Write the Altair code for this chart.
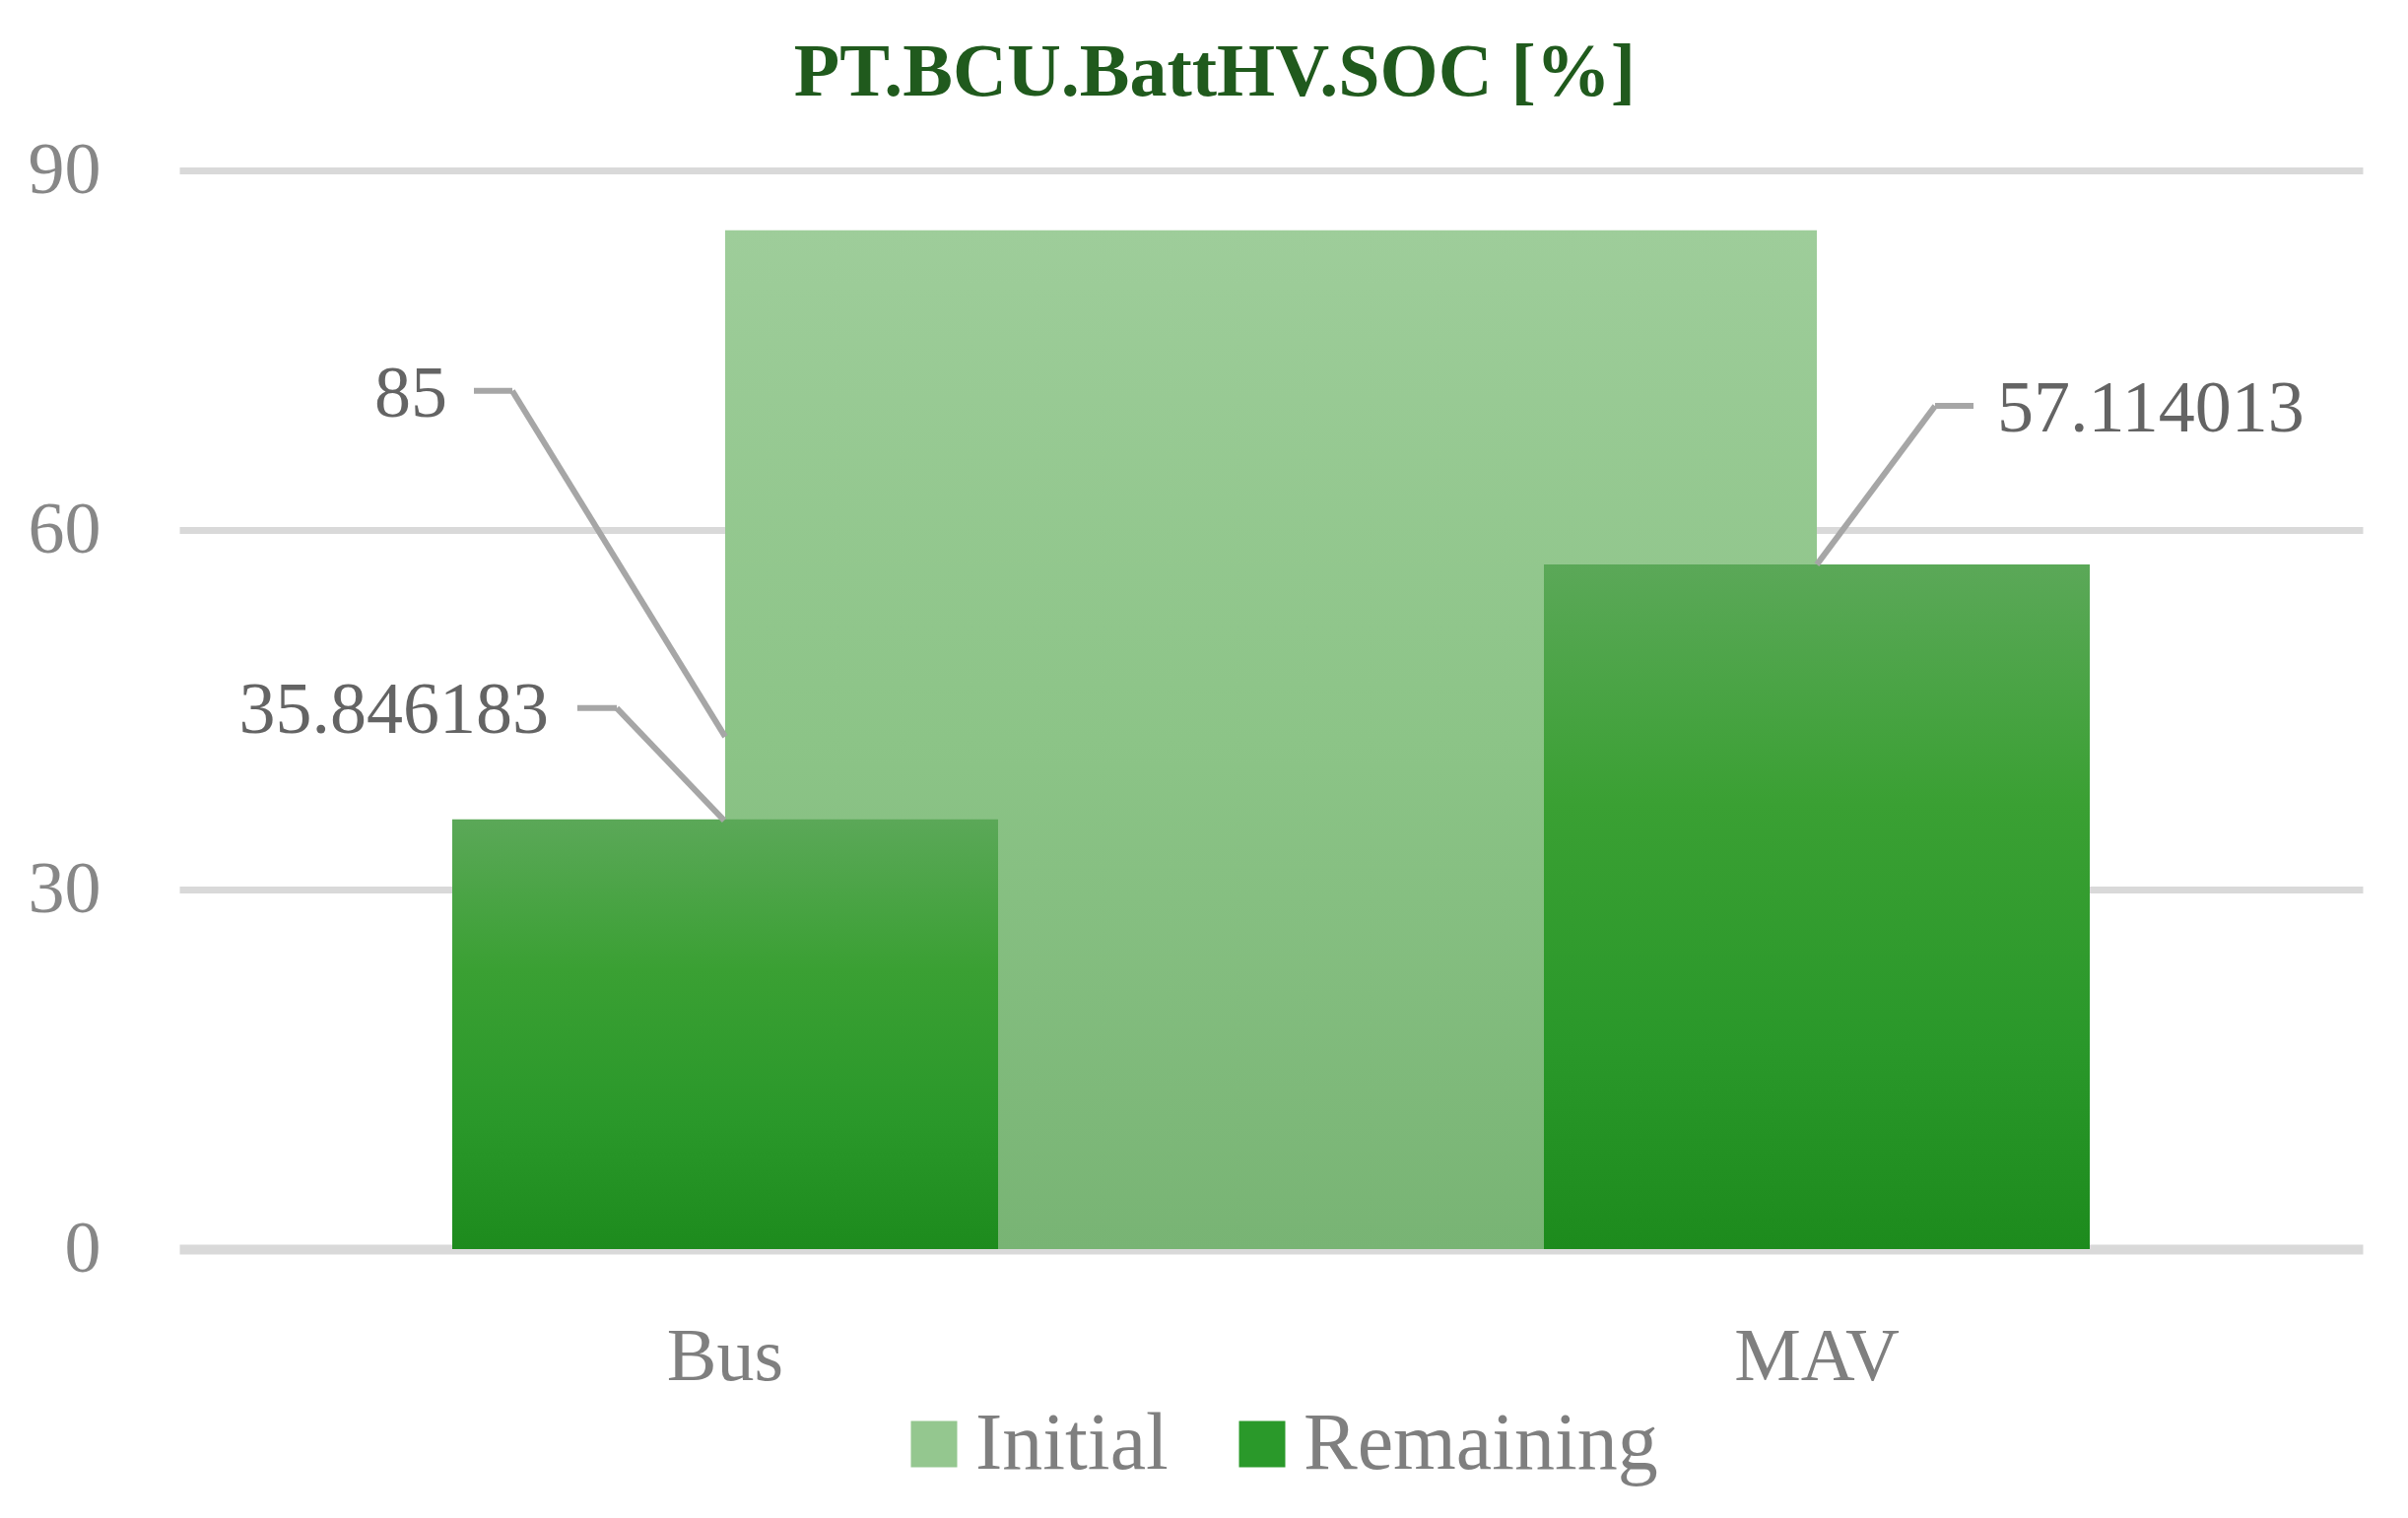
import pandas as pd
import altair as alt

# values
vehicles = ["Bus", "MAV"]
initial_soc = [85, 85]
remaining_soc = [35.846183, 57.114013]
series_names = ["Initial", "Remaining"]
y_ticks = [0, 30, 60, 90]

FONT = "Liberation Serif"

soc = pd.DataFrame({"vehicle": vehicles, "initial": initial_soc, "remaining": remaining_soc})
legend_df = pd.DataFrame({"series": series_names})

x_enc = alt.X("vehicle:N", sort=vehicles, title=None,
              scale=alt.Scale(paddingInner=0, paddingOuter=0),
              axis=alt.Axis(labelAngle=0, labelFont=FONT, labelFontSize=76, labelColor="#7f7f7f",
                            ticks=False, tickSize=0, domain=False, labelPadding=132,
                            labelBaseline="alphabetic"))
y_enc = alt.Y("initial:Q", title=None,
              scale=alt.Scale(domain=[0, 90], nice=False),
              axis=alt.Axis(values=y_ticks, labelFont=FONT, labelFontSize=74, labelColor="#878787",
                            ticks=False, tickSize=0, domain=False, labelPadding=80,
                            gridColor="#d9d9d9",
                            gridWidth={"condition": {"test": "datum.value === 0", "value": 10}, "value": 7}))

base = alt.Chart(soc)

initial_area = base.mark_area(
    color=alt.Gradient(
        gradient="linear",
        stops=[alt.GradientStop(color="#9ecd9a", offset=0),
               alt.GradientStop(color="#8cc487", offset=0.5),
               alt.GradientStop(color="#78b474", offset=1)],
        x1=0, x2=0, y1=0, y2=1)
).encode(x=x_enc, y=y_enc)

remaining_bars = base.mark_bar(
    width={"band": 0.5},
    color=alt.Gradient(
        gradient="linear",
        stops=[alt.GradientStop(color="#5ba858", offset=0),
               alt.GradientStop(color="#3aa033", offset=0.35),
               alt.GradientStop(color="#2a982a", offset=0.7),
               alt.GradientStop(color="#1d8b1d", offset=1)],
        x1=0, x2=0, y1=0, y2=1)
).encode(x=alt.X("vehicle:N", sort=vehicles), y=alt.Y("remaining:Q"))

# legend only layer
legend_layer = alt.Chart(legend_df).mark_square(size=0, opacity=0).encode(
    x=alt.value(0), y=alt.value(0),
    color=alt.Color("series:N", sort=series_names, title=None,
                    scale=alt.Scale(domain=series_names, range=["#94c78f", "#2a992a"]),
                    legend=alt.Legend(orient="none", legendX=725, legendY=1252, direction="horizontal",
                                      symbolType="square", symbolSize=2209, symbolOpacity=1,
                                      symbolStrokeWidth=0, labelFont=FONT, labelFontSize=82,
                                      labelColor="#7f7f7f", labelOffset=1, columnPadding=54,
                                      padding=0, labelLimit=0))
)

# data labels with leader lines: (field, vehicle, text dx, text dy, align, leader points)
label_specs = [
    ("initial", "Bus", -282, 167, "right", [(-255, 163, -216, 163), (-216, 163, 0, 514)]),
    ("remaining", "Bus", -179, -110, "right", [(-150, -113, -110, -113), (-110, -113, -1, 1)]),
    ("remaining", "MAV", 183, -157, "left", [(159, -161, 120, -161), (120, -161, 0, 0)]),
]

label_layers = []
for field, veh, dx, dy, align, segs in label_specs:
    src = base.transform_filter(alt.datum.vehicle == veh)
    for x0, y0, x1, y1 in segs:
        label_layers.append(src.mark_rule(color="#a6a6a6", strokeWidth=6,
                                          xOffset=x0, yOffset=y0, x2Offset=x1, y2Offset=y1).encode(
            x=alt.X("vehicle:N", sort=vehicles), x2="vehicle:N",
            y=alt.Y(f"{field}:Q"), y2=f"{field}:Q"))
    label_layers.append(src.mark_text(align=align, baseline="middle", dx=dx, dy=dy,
                                      font=FONT, fontSize=74, color="#646464").encode(
        x=alt.X("vehicle:N", sort=vehicles), y=alt.Y(f"{field}:Q"),
        text=alt.Text(f"{field}:Q", format=".6~f")))

chart = alt.layer(initial_area, remaining_bars, *label_layers, legend_layer).properties(
    width=2216, height=1095,
    autosize=alt.AutoSizeParams(type="none"),
    padding={"left": 174, "top": 165, "right": 30, "bottom": 255},
    title=alt.Title("PT.BCU.BattHV.SOC [%]", font=FONT, fontSize=76, fontWeight="bold",
                    color="#205a1d", anchor="middle", frame="bounds", baseline="alphabetic",
                    offset=40, dx=20, dy=77),
).configure_view(stroke=None).configure_axis(grid=True).configure_axisX(grid=False)

chart.save("out.html", embed_options={"renderer": "svg", "actions": False})
